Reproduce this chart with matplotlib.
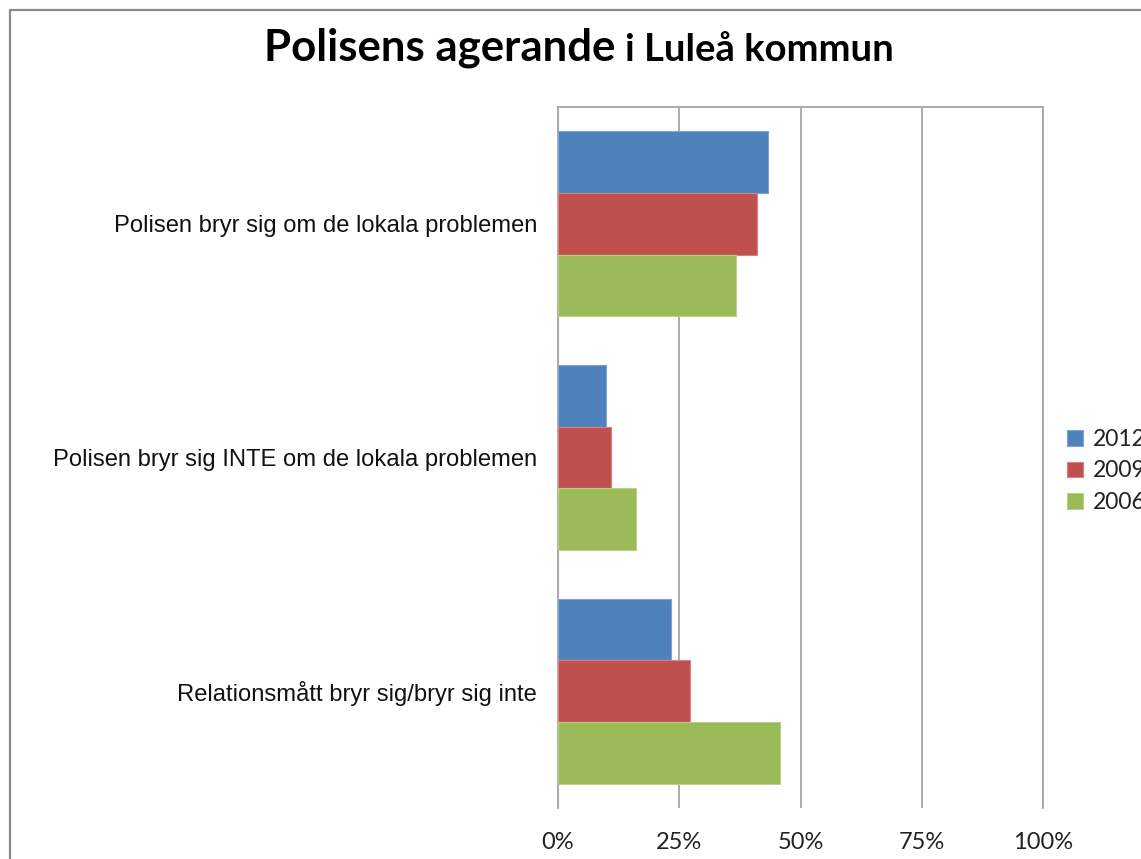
import matplotlib
matplotlib.use("Agg")
import matplotlib.pyplot as plt
from matplotlib.patches import Rectangle
import numpy as np

categories = ["Polisen bryr sig om de lokala problemen",
              "Polisen bryr sig INTE om de lokala problemen",
              "Relationsmått bryr sig/bryr sig inte"]
series_names = ["2012", "2009", "2006"]
v2012 = [43.3, 9.8, 23.2]
v2009 = [41.1, 11.0, 27.2]
v2006 = [36.8, 16.1, 45.8]
xticks = [0, 25, 50, 75, 100]
xtick_labels = ["0%", "25%", "50%", "75%", "100%"]
title_main = "Polisens agerande"
title_sub = "i Luleå kommun"

colors = ["#4F81BD", "#C0504D", "#9BBB59"]
edges = ["#7FA3D3", "#D58280", "#B8D18A"]

W, H = 1141, 859
fig = plt.figure(figsize=(W / 100, H / 100), dpi=100)
fig.patch.set_facecolor("white")

# outer chart border
fig.patches.append(Rectangle((10 / W, -0.1), 1.2, 1 - 10 / H + 0.1, transform=fig.transFigure,
                             fill=False, edgecolor="#898989", linewidth=1.6))

ax = fig.add_axes([558 / W, 1 - 808 / H, (1043 - 558) / W, (808 - 107) / H])
y = np.arange(len(categories))
h = 0.264
for i, (vals, name) in enumerate(zip([v2012, v2009, v2006], series_names)):
    ax.barh(y + (i - 1) * h, vals, height=h, color=colors[i], edgecolor=edges[i],
            linewidth=0.8, label=name, zorder=3)

ax.set_ylim(len(categories) - 0.5, -0.5)
ax.set_xlim(0, 100)
ax.set_xticks(xticks)
ax.set_xticklabels(xtick_labels, fontfamily="Lato", fontsize=17, color="#222222")
ax.set_yticks(y)
ax.set_yticklabels(categories, fontfamily="Liberation Sans", fontsize=17.1, color="#111111")
ax.tick_params(axis="both", length=0)
ax.tick_params(axis="x", pad=17)
ax.tick_params(axis="y", pad=15)
ax.grid(axis="x", color="#A6A6A6", linewidth=1.3, zorder=1)
ax.spines["bottom"].set_visible(False)
for s in ["top", "left", "right"]:
    ax.spines[s].set_color("#A6A6A6")
    ax.spines[s].set_linewidth(1.3)

leg = ax.legend(loc="upper left", bbox_to_anchor=(1058 / W, 1 - 420 / H),
                bbox_transform=fig.transFigure, frameon=False,
                prop={"family": "Lato", "size": 16.5}, handlelength=0.68, handleheight=0.68,
                handletextpad=0.45, labelspacing=0.45, borderaxespad=0)
for t in leg.get_texts():
    t.set_color("#222222")

# title in two parts
t1 = fig.text(264 / W, 1 - 61 / H, title_main, fontfamily="Lato", fontweight="bold",
              fontsize=31.5, color="black", va="baseline", ha="left")
fig.canvas.draw()
bb = t1.get_window_extent()
fig.text((bb.x1 + 10) / W, 1 - 61 / H, title_sub, fontfamily="Lato", fontweight="bold",
         fontsize=27.5, color="black", va="baseline", ha="left")

fig.savefig("out.png", dpi=100, facecolor="white")
